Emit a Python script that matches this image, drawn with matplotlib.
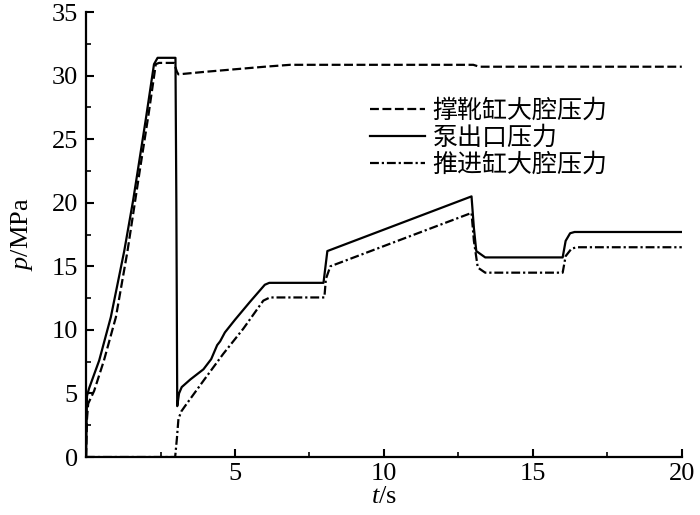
import matplotlib
matplotlib.use("Agg")
import matplotlib.pyplot as plt
from matplotlib.ticker import MultipleLocator

# --- data ---
t_support = [0.0, 0.03, 0.07, 0.27, 0.6, 1.0, 1.39, 1.8, 2.1, 2.34, 2.45, 2.95, 3.05, 3.1, 4.0, 5.0, 6.0, 6.85, 8.0, 13.0, 13.2, 20.0]
p_support = [0.0, 3.0, 4.2, 5.2, 7.6, 11.0, 16.2, 22.5, 27.0, 30.9, 31.0, 31.0, 30.3, 30.1, 30.3, 30.5, 30.7, 30.85, 30.85, 30.85, 30.7, 30.7]

t_pump = [0.0, 0.03, 0.1, 0.44, 0.83, 1.28, 1.58, 2.0, 2.28, 2.4, 3.0, 3.03, 3.06, 3.12, 3.21, 3.5, 3.94, 4.2, 4.4, 4.5, 4.66, 5.0, 5.5, 6.0, 6.15, 7.97, 8.1, 12.94, 13.02, 13.1, 13.4, 16.0, 16.1, 16.25, 16.4, 20.0]
p_pump = [0.0, 4.8, 5.4, 7.6, 11.0, 16.2, 20.2, 26.5, 30.9, 31.4, 31.4, 20.0, 4.0, 5.0, 5.5, 6.1, 6.9, 7.7, 8.8, 9.1, 9.8, 10.8, 12.2, 13.55, 13.7, 13.7, 16.2, 20.5, 18.0, 16.2, 15.7, 15.7, 17.0, 17.6, 17.7, 17.7]

t_thrust = [0.0, 2.99, 3.05, 3.1, 3.2, 3.32, 3.94, 4.6, 5.28, 5.95, 6.17, 8.0, 8.05, 8.2, 12.94, 13.02, 13.15, 13.4, 16.0, 16.1, 16.3, 16.5, 20.0]
p_thrust = [0.0, 0.0, 1.5, 3.0, 3.6, 4.0, 6.0, 8.1, 10.1, 12.3, 12.55, 12.55, 14.0, 15.0, 19.2, 17.0, 14.9, 14.5, 14.5, 15.8, 16.4, 16.5, 16.5]

labels = ["撑靴缸大腔压力", "泵出口压力", "推进缸大腔压力"]
x_ticks = [5, 10, 15, 20]
y_ticks = [0, 5, 10, 15, 20, 25, 30, 35]

plt.rcParams['font.family'] = ['Liberation Serif', 'Noto Sans CJK SC']
plt.rcParams['mathtext.fontset'] = 'custom'
plt.rcParams['mathtext.rm'] = 'Liberation Serif'
plt.rcParams['mathtext.it'] = 'Liberation Serif:italic'

fig = plt.figure(figsize=(7, 5.15), dpi=100)
ax = fig.add_axes([0.123, 0.1126, 0.851, 0.864])

lw = 1.6
ax.plot(t_support, p_support, color='black', lw=lw, linestyle=(0, (4, 1.6)), label=labels[0])
ax.plot(t_pump, p_pump, color='black', lw=lw, linestyle='-', label=labels[1])
ax.plot(t_thrust, p_thrust, color='black', lw=lw, linestyle=(0, (4, 1.3, 1, 1.3)), label=labels[2])

ax.set_xlim(0, 20)
ax.set_ylim(0, 35)
ax.set_xticks(x_ticks)
ax.set_yticks(y_ticks)
ax.xaxis.set_minor_locator(MultipleLocator(2.5))
ax.yaxis.set_minor_locator(MultipleLocator(2.5))
ax.tick_params(which='major', direction='in', length=6, width=1.5, labelsize=19, pad=6)
ax.tick_params(which='minor', direction='in', length=3.5, width=1.2)
ax.tick_params(axis='x', pad=4)

for s in ['top', 'right']:
    ax.spines[s].set_visible(False)
for s in ['left', 'bottom']:
    ax.spines[s].set_linewidth(1.6)

ax.set_xlabel(r'$t$/s', fontsize=19, labelpad=1)
ax.set_ylabel(r'$p$/MPa', fontsize=19, labelpad=12)

leg = ax.legend(loc='upper left', bbox_to_anchor=(0.46, 0.83), frameon=False,
                prop={'family': 'Noto Sans CJK SC', 'size': 18},
                handlelength=2.2, handletextpad=0.3, labelspacing=0.05,
                borderaxespad=0)

fig.savefig('out.png', dpi=100)
